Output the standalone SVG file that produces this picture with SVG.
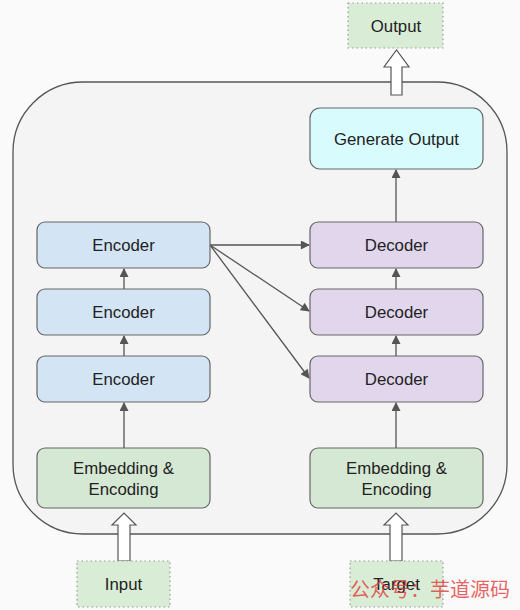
<svg xmlns="http://www.w3.org/2000/svg" width="520" height="610" viewBox="0 0 520 610">
<defs>
<style>
text{font-family:"Liberation Sans",Arial,sans-serif;font-size:16.8px;fill:#222;text-anchor:middle;dominant-baseline:central}
.enc{fill:#d3e5f5;stroke:#666;stroke-width:1.2}
.dec{fill:#e1d6ec;stroke:#666;stroke-width:1.2}
.emb{fill:#d5e8d4;stroke:#666;stroke-width:1.2}
.gen{fill:#d8fcfd;stroke:#666;stroke-width:1.2}
.io{fill:#d9ecd6;stroke:#999;stroke-width:1.2;stroke-dasharray:1.5 3}
.hollow{fill:#fff;stroke:#555;stroke-width:1.2}
.conn{stroke:#555;stroke-width:1.3;fill:none;marker-end:url(#ah)}
</style>
<marker id="ah" viewBox="0 0 10 10" refX="9" refY="5" markerWidth="10" markerHeight="9" orient="auto" markerUnits="userSpaceOnUse">
<path d="M0,0 L10,5 L0,10 Z" fill="#555"/>
</marker>
</defs>
<rect width="520" height="610" fill="#fafafa"/>
<g id="container"><rect x="13" y="82" width="494" height="452" rx="70" fill="#f4f4f4" stroke="#555" stroke-width="1.3"/></g>
<g id="connectors">
<line class="conn" x1="124" y1="448" x2="124" y2="403"/>
<line class="conn" x1="124" y1="356" x2="124" y2="336"/>
<line class="conn" x1="124" y1="289" x2="124" y2="269"/>
<line class="conn" x1="396" y1="448" x2="396" y2="403"/>
<line class="conn" x1="396" y1="356" x2="396" y2="336"/>
<line class="conn" x1="396" y1="289" x2="396" y2="269"/>
<line class="conn" x1="396" y1="222" x2="396" y2="170"/>
<line class="conn" x1="210" y1="245" x2="309" y2="245"/>
<line class="conn" x1="210" y1="245" x2="309" y2="311"/>
<line class="conn" x1="210" y1="245" x2="309" y2="378"/>
<path class="hollow" d="M391,95 V67 H384 L396.5,50 L409,67 H402 V95 Z"/>
<path class="hollow" d="M118,561 V525 H112 L124,513 L136,525 H130 V561 Z"/>
<path class="hollow" d="M390,561 V525 H384 L396,513 L408,525 H402 V561 Z"/>
</g>
<g id="output"><rect class="io" x="348" y="3" width="95" height="45"/><text x="396" y="26">Output</text></g>
<g id="generate"><rect class="gen" x="310" y="108" width="173" height="61" rx="10"/><text x="396.5" y="139">Generate Output</text></g>
<g id="encoder1"><rect class="enc" x="37" y="222" width="173" height="46" rx="8"/><text x="123.5" y="245">Encoder</text></g>
<g id="encoder2"><rect class="enc" x="37" y="289" width="173" height="46" rx="8"/><text x="123.5" y="312">Encoder</text></g>
<g id="encoder3"><rect class="enc" x="37" y="356" width="173" height="46" rx="8"/><text x="123.5" y="379">Encoder</text></g>
<g id="decoder1"><rect class="dec" x="310" y="222" width="173" height="46" rx="8"/><text x="396.5" y="245">Decoder</text></g>
<g id="decoder2"><rect class="dec" x="310" y="289" width="173" height="46" rx="8"/><text x="396.5" y="312">Decoder</text></g>
<g id="decoder3"><rect class="dec" x="310" y="356" width="173" height="46" rx="8"/><text x="396.5" y="379">Decoder</text></g>
<g id="embed-left"><rect class="emb" x="37" y="448" width="173" height="60" rx="8"/><text x="123.5" y="468">Embedding &amp;</text><text x="123.5" y="489">Encoding</text></g>
<g id="embed-right"><rect class="emb" x="310" y="448" width="173" height="60" rx="8"/><text x="396.5" y="468">Embedding &amp;</text><text x="396.5" y="489">Encoding</text></g>
<g id="input"><rect class="io" x="77" y="561" width="93" height="46"/><text x="123.5" y="584">Input</text></g>
<g id="target"><rect class="io" x="350" y="561" width="93" height="46"/><text x="396.5" y="584">Target</text></g>
<text x="430" y="588" style="font-family:'Noto Sans CJK SC',sans-serif;font-size:20px;fill:#e03030;fill-opacity:0.75">公众号：芋道源码</text>
</svg>
